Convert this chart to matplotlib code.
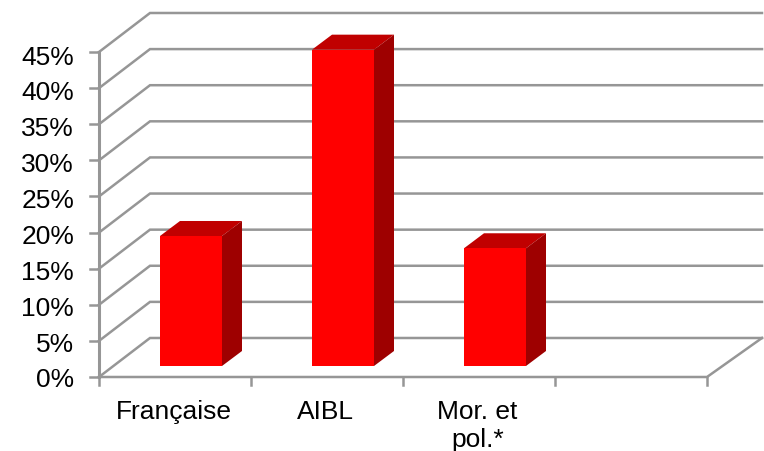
import matplotlib
matplotlib.use('Agg')
import matplotlib.pyplot as plt
from matplotlib.patches import Polygon

categories = ['Française', 'AIBL', 'Mor. et\npol.*', '']
values = [18.0, 43.8, 16.3]
ticks = [0, 5, 10, 15, 20, 25, 30, 35, 40, 45]

# depth of the fake 3d box, in data units
depth_x = 51 / 152
depth_y = 39 / 7.22
right_x = 4 + 55 / 152
bar_w = 62 / 152
bar_off_x = 61 / 152
bar_off_y = 11 / 7.22
bar_dx = 20 / 152
bar_dy = 15 / 7.22

grey = '#969696'
plt.rcParams['font.family'] = ['Liberation Sans', 'DejaVu Sans']

fig = plt.figure(figsize=(7.64, 4.52), dpi=100)
ax = fig.add_axes([99 / 764, 1 - 378 / 452, 608 / 764, 325 / 452])
ax.set_xlim(0, 4)
ax.set_ylim(0, 45)
ax.axis('off')

# walls
for t in ticks:
    ax.plot([0, depth_x, right_x], [t, t + depth_y, t + depth_y], color=grey, lw=1.8,
            clip_on=False, solid_joinstyle='miter', zorder=1)
    ax.plot([-9 / 152, 0], [t, t], color=grey, lw=1.8, clip_on=False, zorder=1)
    # labels sit a touch lower towards the top of the scale
    ax.text(-25 / 152, t - t / 45 * 2 / 7.22, str(t) + '%', ha='right', va='center_baseline',
            fontsize=19, color='black')

ax.plot([0, 0], [0, 45], color=grey, lw=2.2, clip_on=False, zorder=1)
ax.plot([0, 4, right_x], [0, 0, depth_y], color=grey, lw=1.8, clip_on=False, zorder=1)

for i in range(5):
    ax.plot([i, i], [0, -8 / 7.22], color=grey, lw=1.8, clip_on=False, zorder=1)

for i, lab in enumerate(categories):
    if lab:
        ax.text(i + 0.49, -22 / 7.22, lab, ha='center', va='top', fontsize=19, color='black',
                linespacing=1.2, clip_on=False)

# bars
for i, v in enumerate(values):
    x0 = i + bar_off_x
    x1 = x0 + bar_w
    y0 = bar_off_y
    y1 = y0 + v
    ax.add_patch(Polygon([(x0, y1), (x1, y1), (x1 + bar_dx, y1 + bar_dy), (x0 + bar_dx, y1 + bar_dy)],
                         fc='#C00000', ec='none', zorder=3, clip_on=False))
    ax.add_patch(Polygon([(x1, y0), (x1 + bar_dx, y0 + bar_dy), (x1 + bar_dx, y1 + bar_dy), (x1, y1)],
                         fc='#9E0000', ec='none', zorder=3, clip_on=False))
    ax.add_patch(Polygon([(x0, y0), (x1, y0), (x1, y1), (x0, y1)],
                         fc='#FF0000', ec='none', zorder=4, clip_on=False))

fig.savefig('out.png', dpi=100)
